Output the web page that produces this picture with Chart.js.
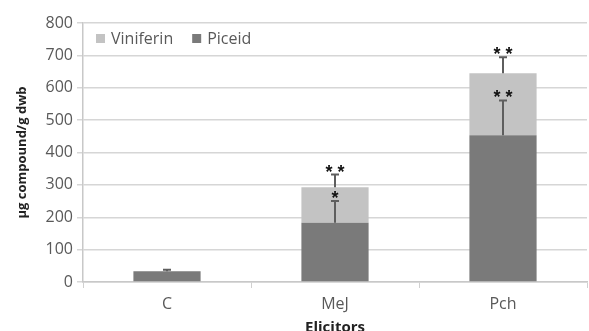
<!DOCTYPE html>
<html><head><meta charset="utf-8">
<script src="https://cdn.jsdelivr.net/npm/chart.js@4/dist/chart.umd.min.js"></script>
<style>html,body{margin:0;padding:0;background:#fff;}#wrap{width:589px;height:331px;}</style>
</head><body><div id="wrap"><canvas id="c" width="589" height="331"></canvas></div>
<script>
const categories = ['C', 'MeJ', 'Pch'];
const piceid = [33, 183, 453];
const viniferin = [0, 110, 192];
const piceidErr = [5, 67, 108];
const viniferinErr = [0, 39, 49];
const piceidStars = ['', '*', '* *'];
const viniferinStars = ['', '* *', '* *'];
const yTicks = [0, 100, 200, 300, 400, 500, 600, 700, 800];

const FONT = '"Open Sans", sans-serif';
const TXT = '#595959';

const errPlugin = {
  id: 'errbars',
  afterDatasetsDraw(chart) {
    const ctx = chart.ctx, y = chart.scales.y, x = chart.scales.x;
    ctx.save();
    ctx.strokeStyle = '#5e5e5e';
    ctx.lineWidth = 2;
    ctx.fillStyle = '#111';
    ctx.font = 'bold 18px "Liberation Sans", sans-serif';
    ctx.textAlign = 'center';
    ctx.textBaseline = 'alphabetic';
    categories.forEach((c, i) => {
      const cx = x.getPixelForValue(i);
      const series = [
        {base: piceid[i], err: piceidErr[i], star: piceidStars[i]},
        {base: piceid[i] + viniferin[i], err: viniferinErr[i], star: viniferinStars[i]}
      ];
      series.forEach(s => {
        if (!s.err) return;
        const y0 = y.getPixelForValue(s.base), y1 = y.getPixelForValue(s.base + s.err);
        ctx.beginPath();
        ctx.moveTo(cx, y0); ctx.lineTo(cx, y1);
        ctx.moveTo(cx - 4, y1); ctx.lineTo(cx + 4, y1);
        ctx.stroke();
        if (s.star) ctx.fillText(s.star, cx, y1 + 3);
      });
    });
    ctx.restore();
  }
};

const legendPlugin = {
  id: 'customLegend',
  afterDraw(chart) {
    const ctx = chart.ctx, a = chart.chartArea;
    const order = [1, 0];
    let xPos = a.left + 13;
    const yc = a.top + 16;
    ctx.save();
    ctx.font = '16px ' + FONT;
    ctx.textBaseline = 'middle';
    order.forEach(di => {
      const ds = chart.data.datasets[di];
      ctx.fillStyle = ds.backgroundColor;
      ctx.fillRect(xPos, yc - 5, 9, 9);
      ctx.fillStyle = TXT;
      ctx.fillText(ds.label, xPos + 15, yc);
      xPos += 15 + ctx.measureText(ds.label).width + 19;
    });
    ctx.restore();
  }
};

new Chart(document.getElementById('c'), {
  type: 'bar',
  data: {
    labels: categories,
    datasets: [
      {label: 'Piceid', data: piceid, backgroundColor: '#7a7a7a', barPercentage: 0.4, categoryPercentage: 1.0},
      {label: 'Viniferin', data: viniferin, backgroundColor: '#c3c3c3', barPercentage: 0.4, categoryPercentage: 1.0}
    ]
  },
  options: {
    responsive: false,
    animation: false,
    layout: {padding: {left: 0, right: 2, top: 23, bottom: 0}},
    plugins: {
      legend: {display: false},
      tooltip: {enabled: false}
    },
    scales: {
      x: {
        stacked: true,
        grid: {display: true, drawOnChartArea: false, drawTicks: true, tickLength: 6, color: '#d0d0d0', offset: true},
        border: {color: '#c8c8c8', width: 1.5},
        ticks: {color: TXT, font: {family: FONT, size: 16}, padding: 7},
        title: {display: true, text: 'Elicitors', color: '#222', font: {family: FONT, size: 15, weight: 'bold'}, padding: {top: 0, bottom: -6}},
        afterFit(s) { s.height = 49; }
      },
      y: {
        stacked: true, min: 0, max: 800,
        afterBuildTicks(s) { s.ticks = yTicks.map(v => ({value: v})); },
        grid: {color: '#d6d6d6', lineWidth: 1.5, tickLength: 6},
        border: {color: '#c8c8c8', width: 1.5},
        ticks: {color: TXT, font: {family: FONT, size: 16}, padding: 4},
        title: {display: true, text: 'µg compound/g dwb', color: '#222', font: {family: FONT, size: 13, weight: 'bold'}, padding: {top: 14, bottom: 0}},
        afterFit(s) { s.width = 83; }
      }
    }
  },
  plugins: [errPlugin, legendPlugin]
});
</script></body></html>
